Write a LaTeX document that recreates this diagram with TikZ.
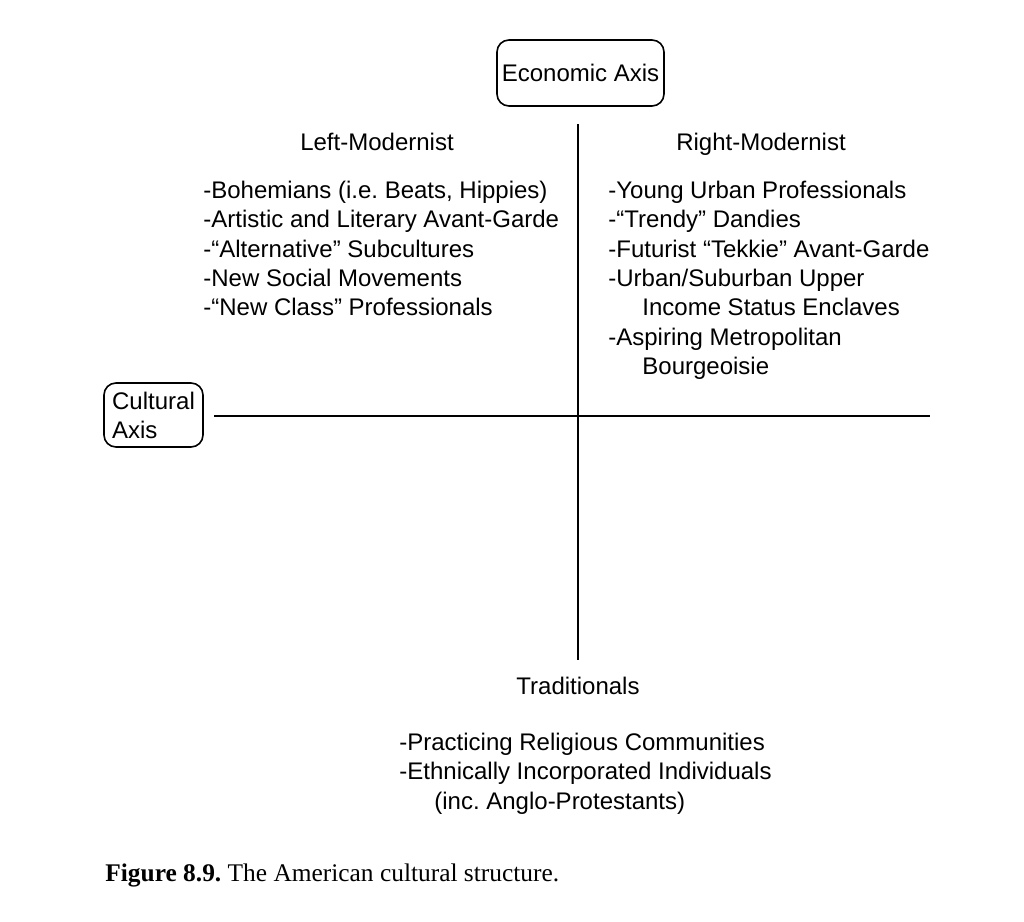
\documentclass[tikz,border=0pt]{standalone}
\usepackage{fontspec}
\setmainfont{Liberation Sans}
\newfontfamily\capfont{Liberation Serif}
\frenchspacing
\begin{document}
\begin{tikzpicture}[x=0.5pt,y=-0.5pt,
  txt/.style={inner sep=0pt, anchor=base west, font=\fontsize{12}{14.5}\selectfont},
  hdr/.style={inner sep=0pt, anchor=base, font=\fontsize{12}{14.5}\selectfont},
  axisbox/.style={draw, line width=0.8pt, rounded corners=6pt, inner sep=2pt, font=\fontsize{12}{14.5}\selectfont},
  axisline/.style={line width=1.3pt}]
\useasboundingbox[fill=white] (0,0) rectangle (1024,922);
% axis boxes
\node[axisbox, minimum width=83.5pt, minimum height=33pt] (econ) at (580.5,73) {Economic Axis};
\node[axisbox, minimum width=49.5pt, minimum height=32pt, align=left] (cult) at (153.5,415) {Cultural\\Axis};
% axes
\coordinate (vtop) at (578,124);
\coordinate (vbot) at (578,660);
\coordinate (hl) at (214,416);
\coordinate (hr) at (930,416);
\draw[axisline] (vtop) -- (vbot);
\draw[axisline] (hl) -- (hr);
% headers
\node[hdr] (lm) at (377,150) {Left-Modernist};
\node[hdr] (rm) at (761,150) {Right-Modernist};
\node[hdr] (tr) at (578,694) {Traditionals};
% left list
\node[txt] (l1) at (203,198) {-Bohemians (i.e. Beats, Hippies)};
\node[txt] (l2) at (203,227) {-Artistic and Literary Avant-Garde};
\node[txt] (l3) at (203,257) {-“Alternative” Subcultures};
\node[txt] (l4) at (203,286) {-New Social Movements};
\node[txt] (l5) at (203,315) {-“New Class” Professionals};
% right list
\node[txt] (r1) at (608,198) {-Young Urban Professionals};
\node[txt] (r2) at (608,227) {-“Trendy” Dandies};
\node[txt] (r3) at (608,257) {-Futurist “Tekkie” Avant-Garde};
\node[txt] (r4) at (608,286) {-Urban/Suburban Upper};
\node[txt] (r5) at (642,315) {Income Status Enclaves};
\node[txt] (r6) at (608,345) {-Aspiring Metropolitan};
\node[txt] (r7) at (642,374) {Bourgeoisie};
% traditional list
\node[txt] (t1) at (399,750) {-Practicing Religious Communities};
\node[txt] (t2) at (399,779) {-Ethnically Incorporated Individuals};
\node[txt] (t3) at (434,809) {(inc. Anglo-Protestants)};
% caption
\node[inner sep=0pt, anchor=base west, font=\capfont\fontsize{12.7}{14}\selectfont] (cap) at (105,881) {\textbf{Figure 8.9.} The American cultural structure.};
\end{tikzpicture}
\end{document}
